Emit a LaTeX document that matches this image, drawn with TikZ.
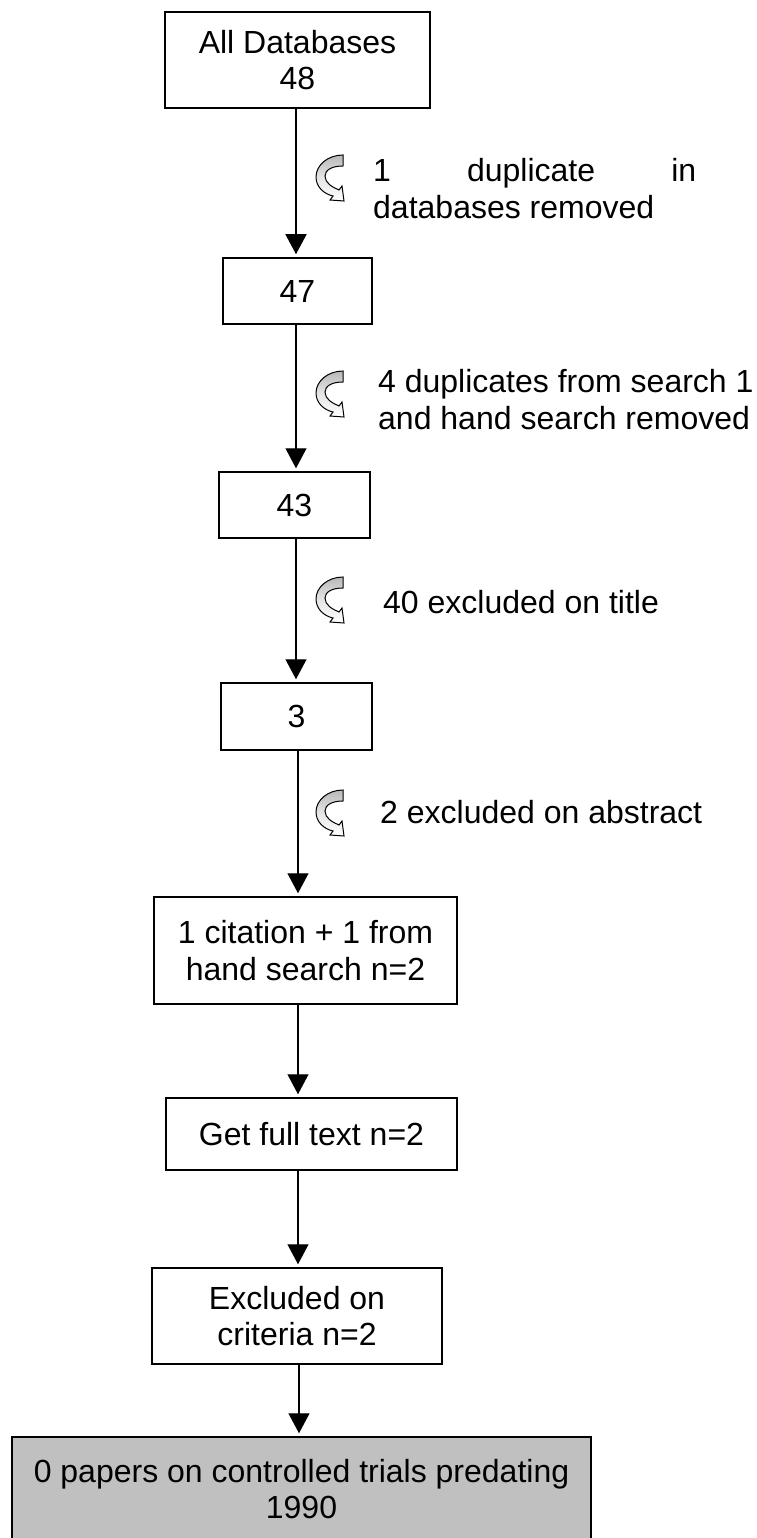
\documentclass[tikz,border=0pt]{standalone}
\usepackage{fontspec}
\setmainfont{Liberation Sans}
\usetikzlibrary{arrows.meta}
\begin{document}
\begin{tikzpicture}[x=1pt,y=-1pt,
  box/.style={draw=black, line width=1.5pt, fill=white, align=center, inner sep=0pt,
    font=\fontsize{32}{36.5}\selectfont},
  lbl/.style={anchor=west, align=left, inner sep=0pt, font=\fontsize{32}{36.5}\selectfont},
  conn/.style={line width=1.3pt, -{Triangle[width=21pt,length=20pt]}, shorten >=3pt},
  curl/.pic={
    \shade[draw=black, line width=1pt, top color=black!28, bottom color=white, middle color=black!10]
      (33,12) .. controls (18,12) and (6,22) .. (6,34)
      .. controls (6,44) and (14,51) .. (23,53) -- (20,57) -- (34,58) -- (32,43) -- (29,47)
      .. controls (22,44) and (15,40) .. (15,33)
      .. controls (15,27) and (22,23) .. (33,23) -- cycle;
  }]
\useasboundingbox (0,0) rectangle (756,1538);
\fill[white] (0,0) rectangle (756,1538);

\coordinate (xa) at (296,0);
\coordinate (xb) at (298,0);
\coordinate (xc) at (299,0);

\node[box, minimum width=265pt, minimum height=96pt] (b1) at (297.5,60) {All Databases\\48};
\node[box, minimum width=149pt, minimum height=66pt] (b2) at (297.5,291) {47};
\node[box, minimum width=151pt, minimum height=66pt] (b3) at (294.5,505) {43};
\node[box, minimum width=151pt, minimum height=67pt] (b4) at (296.5,716.5) {3};
\node[box, minimum width=303pt, minimum height=107pt] (b5) at (305.5,950.5) {1 citation + 1 from\\hand search n=2};
\node[box, minimum width=291pt, minimum height=72pt] (b6) at (311.5,1134) {Get full text n=2};
\node[box, minimum width=290pt, minimum height=96pt] (b7) at (297,1316) {Excluded on\\criteria n=2};
\node[box, fill={rgb,255:red,192;green,192;blue,192}, minimum width=579pt, minimum height=104pt] (b8) at (301.5,1489) {0 papers on controlled trials predating\\1990};

\draw[conn] (b1.south -| xa) -- (b2.north -| xa);
\draw[conn] (b2.south -| xa) -- (b3.north -| xa);
\draw[conn] (b3.south -| xa) -- (b4.north -| xa);
\draw[conn] (b4.south -| xb) -- (b5.north -| xb);
\draw[conn] (b5.south -| xb) -- (b6.north -| xb);
\draw[conn] (b6.south -| xb) -- (b7.north -| xb);
\draw[conn] (b7.south -| xc) -- (b8.north -| xc);

\pic at (310,143) {curl};
\pic at (310,359) {curl};
\pic at (310,565) {curl};
\pic at (310,778) {curl};

\node[lbl] (l1) at (373,188.5) {\makebox[323pt][s]{1 duplicate in}\\databases removed};
\node[lbl] (l2) at (378,399.5) {4 duplicates from search 1\\and hand search removed};
\node[lbl] (l3) at (383,602) {40 excluded on title};
\node[lbl] (l4) at (380,812) {2 excluded on abstract};
\end{tikzpicture}
\end{document}
